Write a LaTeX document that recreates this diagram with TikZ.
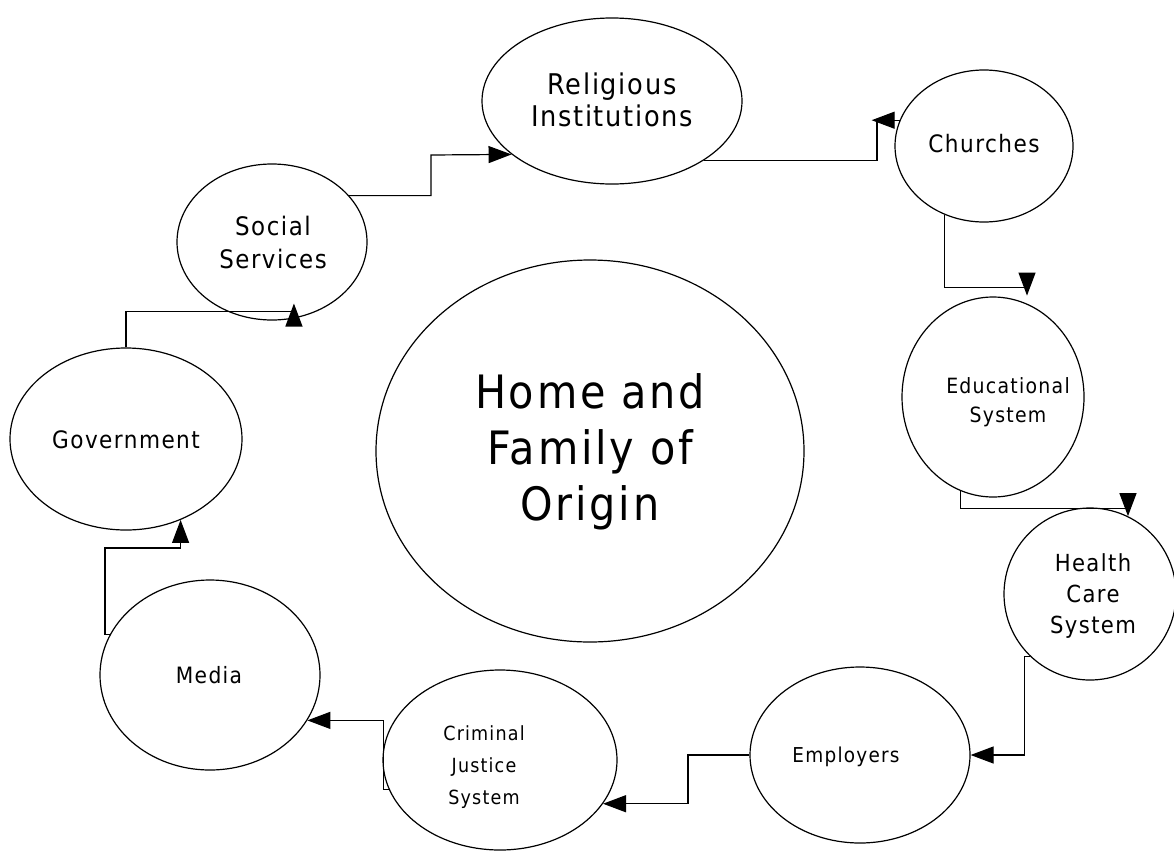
\documentclass[tikz,border=0pt]{standalone}
\usepackage{fontspec}
\setmainfont{DejaVu Sans}[FakeStretch=0.9,LetterSpace=6]
\usetikzlibrary{shapes.geometric,arrows.meta,calc}
\begin{document}
\begin{tikzpicture}[x=1pt,y=-1pt,
  bub/.style={draw,ellipse,inner sep=0pt,line width=1.2pt},
  lbl/.style={align=center,inner sep=0pt},
  ln/.style={draw,line width=1.2pt},
  arr/.style={ln,-{Triangle[length=23pt,width=17pt]}}]
\useasboundingbox (0,0) rectangle (1174,854);
% ellipses
\node[bub,minimum width=260pt,minimum height=166pt] (rel) at (612,101) {};
\node[bub,minimum width=178pt,minimum height=152pt] (ch) at (984,146) {};
\node[bub,minimum width=182pt,minimum height=200pt] (edu) at (993,397) {};
\node[bub,minimum width=172pt,minimum height=172pt] (hc) at (1090,594) {};
\node[bub,minimum width=220pt,minimum height=176pt] (emp) at (860,755) {};
\node[bub,minimum width=234pt,minimum height=180pt] (crim) at (500,760) {};
\node[bub,minimum width=220pt,minimum height=190pt] (med) at (210,675) {};
\node[bub,minimum width=232pt,minimum height=182pt] (gov) at (126,439) {};
\node[bub,minimum width=190pt,minimum height=156pt] (soc) at (272,242) {};
\node[bub,minimum width=428pt,minimum height=382pt] (home) at (590,451) {};
% labels
\node[lbl,font=\fontsize{46}{56}\selectfont] (thome) at (590,452) {Home and\\Family of\\Origin};
\node[lbl,font=\fontsize{28.5}{32}\selectfont] (trel) at (612,100) {Religious\\Institutions};
\node[lbl,font=\fontsize{24}{28}\selectfont] (tch) at (984,144) {Churches};
\node[lbl,font=\fontsize{21}{29}\selectfont] (tedu) at (1008,402) {Educational\\System};
\node[lbl,font=\fontsize{23.5}{31}\selectfont] (thc) at (1093,596) {Health\\Care\\System};
\node[lbl,font=\fontsize{20.5}{28}\selectfont] (temp) at (846,757) {Employers};
\node[lbl,font=\fontsize{19.5}{32}\selectfont] (tcrim) at (484,767) {Criminal\\Justice\\System};
\node[lbl,font=\fontsize{22.5}{28}\selectfont] (tmed) at (209,675) {Media};
\node[lbl,font=\fontsize{24}{28}\selectfont] (tgov) at (126,440) {Government};
\node[lbl,font=\fontsize{25.5}{33}\selectfont] (tsoc) at (273,242) {Social\\Services};
% connectors
\draw[arr] (soc.31) -| (431,155) -- (rel.208.6);
\draw[ln] (rel.-33.8) -| (877,120);
\draw[arr] (ch.163) -- ++(-28,0);
\coordinate (t3) at ([yshift=8pt]edu.70);
\draw[arr] (ch.-120) |- ($(t3)+(0,-8)$) -- (t3);
\draw[arr] (edu.-109) |- ($(hc.64)+(0,-8)$) -- (hc.64);
\draw[arr] (hc.-134) -| ($(emp.east)+(54,0)$) -- (emp.east);
\draw[arr] (emp.west) -| ($(crim.-23)+(85,0)$) -- (crim.-23);
\draw[arr] (crim.195) -| ($(med.-25)+(76,0)$) -- (med.-25);
\draw[arr] (med.158) -| (105,548) -| (gov.-56);
\coordinate (t9) at ([yshift=15pt]soc.-74);
\draw[arr] (gov.90) |- ($(t9)+(0,8)$) -- (t9);
\end{tikzpicture}
\end{document}
